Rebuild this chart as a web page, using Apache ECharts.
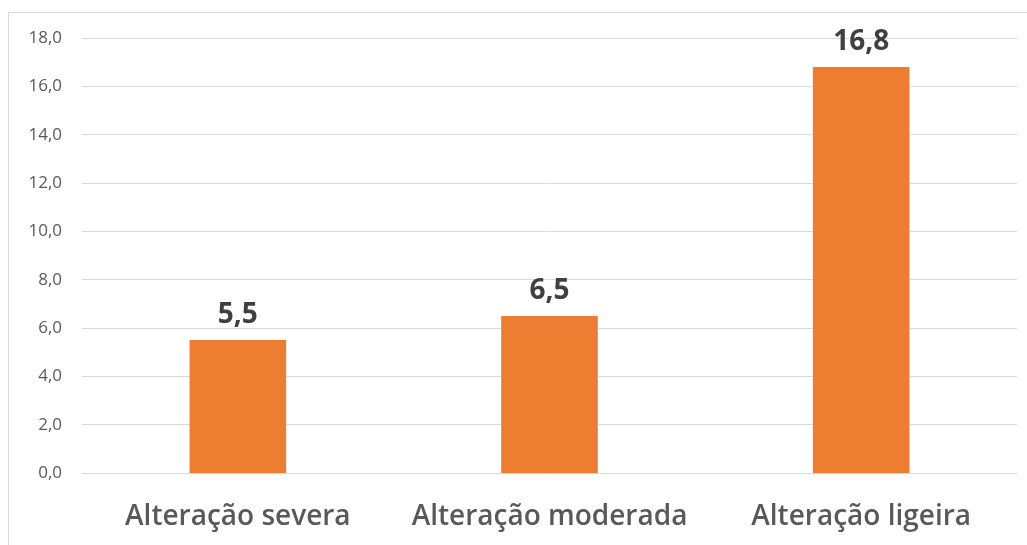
<!DOCTYPE html>
<html>
<head>
<meta charset="utf-8">
<script src="https://cdn.jsdelivr.net/npm/echarts@6/dist/echarts.min.js"></script>
<style>
  html, body { margin: 0; padding: 0; background: #ffffff; }
  #chart { width: 1027px; height: 545px; }
</style>
</head>
<body>
<div id="chart"></div>
<script>
// Categories and values of the bar chart
const categories = ['Alteração severa', 'Alteração moderada', 'Alteração ligeira'];
const values = [5.5, 6.5, 16.8];

const fmt = v => Number(v).toFixed(1).replace('.', ',');

const chart = echarts.init(document.getElementById('chart'));
chart.setOption({
  backgroundColor: '#ffffff',
  animation: false,
  graphic: [{
    type: 'rect',
    shape: { x: 8.5, y: 12.5, width: 1040, height: 560 },
    style: { fill: 'none', stroke: '#d9d9d9', lineWidth: 1 },
    silent: true
  }],
  grid: { left: 82, right: 10, top: 38, bottom: 72, containLabel: false },
  xAxis: {
    type: 'category',
    data: categories,
    axisLine: { show: true, lineStyle: { color: '#d9d9d9' } },
    axisTick: { show: false },
    axisLabel: {
      interval: 0,
      hideOverlap: false,
      color: '#595959',
      fontFamily: 'Open Sans',
      fontWeight: 600,
      fontSize: 28,
      margin: 30
    }
  },
  yAxis: {
    type: 'value',
    min: 0,
    max: 18,
    interval: 2,
    axisLine: { show: false },
    axisTick: { show: false },
    splitLine: { lineStyle: { color: '#d9d9d9', width: 1 } },
    axisLabel: {
      color: '#595959',
      fontFamily: 'Open Sans',
      fontSize: 17,
      margin: 20,
      formatter: v => fmt(v)
    }
  },
  series: [{
    type: 'bar',
    data: values,
    barWidth: '31%',
    itemStyle: { color: '#ed7d31' },
    label: {
      show: true,
      position: 'top',
      distance: 11,
      color: '#404040',
      fontFamily: 'Open Sans',
      fontWeight: 'bold',
      fontSize: 28,
      formatter: p => fmt(p.value)
    }
  }]
});
</script>
</body>
</html>
